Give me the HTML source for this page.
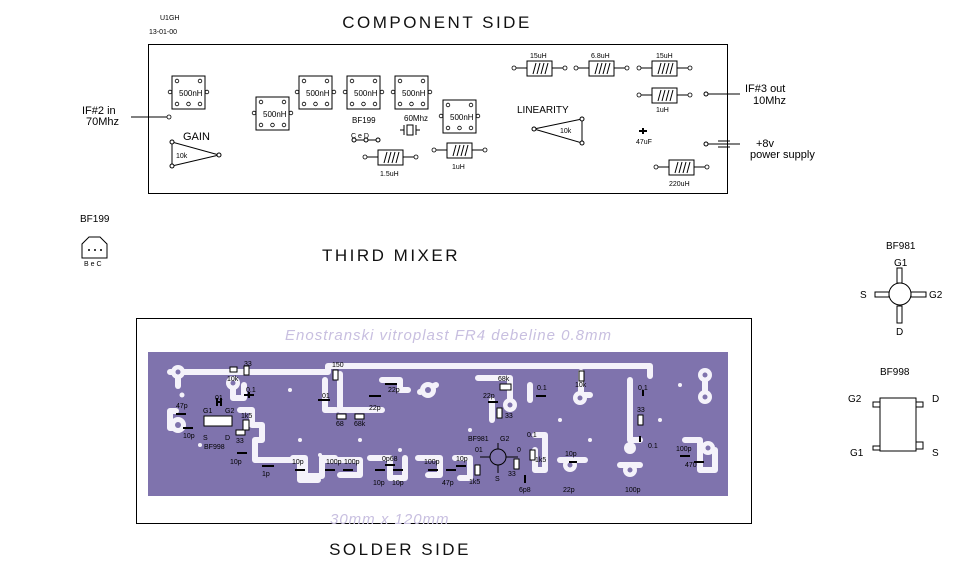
<!DOCTYPE html>
<html><head><meta charset="utf-8"><style>
html,body{margin:0;padding:0;background:#fff}
svg{display:block}
text{font-family:"Liberation Sans",sans-serif}
</style></head><body>
<svg width="979" height="566" viewBox="0 0 979 566" xmlns="http://www.w3.org/2000/svg">
<defs>
<g id="xf"><rect x="0" y="0" width="33" height="33" fill="#fff" stroke="#000"/>
<circle cx="5" cy="5" r="1.8" fill="none" stroke="#000" stroke-width=".8"/><circle cx="28" cy="5" r="1.8" fill="none" stroke="#000" stroke-width=".8"/>
<circle cx="5" cy="28" r="1.8" fill="none" stroke="#000" stroke-width=".8"/><circle cx="16.5" cy="28" r="1.8" fill="none" stroke="#000" stroke-width=".8"/><circle cx="28" cy="28" r="1.8" fill="none" stroke="#000" stroke-width=".8"/>
<circle cx="-2" cy="16" r="1.8" fill="#fff" stroke="#000" stroke-width=".8"/><circle cx="35" cy="16" r="1.8" fill="#fff" stroke="#000" stroke-width=".8"/>
<text x="7" y="20" font-size="8">500nH</text></g>
<g id="ind"><line x1="-12" y1="7" x2="0" y2="7" stroke="#000"/><line x1="25" y1="7" x2="37" y2="7" stroke="#000"/>
<circle cx="-13" cy="7" r="2" fill="#fff" stroke="#000" stroke-width=".8"/><circle cx="38" cy="7" r="2" fill="#fff" stroke="#000" stroke-width=".8"/>
<rect x="0" y="0" width="25" height="15" fill="#fff" stroke="#000"/>
<path d="M6 13 L9 2 M10 13 L13 2 M14 13 L17 2 M18 13 L21 2" stroke="#000"/></g>
</defs>

<text x="437" y="28" font-size="17" text-anchor="middle" letter-spacing="2.5" fill="#111">COMPONENT SIDE</text>
<text x="160" y="20" font-size="7">U1GH</text>
<text x="149" y="34" font-size="7">13-01-00</text>

<rect x="148.5" y="44.5" width="579" height="149" fill="none" stroke="#000"/>
<text x="82" y="114" font-size="11">IF#2 in</text>
<text x="86" y="125" font-size="11">70Mhz</text>
<line x1="131" y1="117" x2="167" y2="117" stroke="#000"/>
<circle cx="169" cy="117" r="2" fill="#fff" stroke="#000" stroke-width=".8"/>
<use href="#xf" x="172" y="76"/><use href="#xf" x="256" y="97"/><use href="#xf" x="299" y="76"/><use href="#xf" x="347" y="76"/><use href="#xf" x="395" y="76"/><use href="#xf" x="443" y="100"/>
<text x="183" y="140" font-size="11">GAIN</text>
<polygon points="172,142 172,166 219,155" fill="none" stroke="#000"/>
<text x="176" y="158" font-size="7">10k</text>
<circle cx="172" cy="142" r="2" fill="#fff" stroke="#000"/><circle cx="172" cy="166" r="2" fill="#fff" stroke="#000"/><circle cx="219" cy="155" r="2" fill="#fff" stroke="#000"/>
<text x="352" y="123" font-size="8">BF199</text>
<text x="351" y="138" font-size="7">C  e  D</text>
<path d="M354 140 H378" stroke="#000"/><circle cx="354" cy="140" r="2" fill="#fff" stroke="#000"/><circle cx="366" cy="140" r="2" fill="#fff" stroke="#000"/><circle cx="378" cy="140" r="2" fill="#fff" stroke="#000"/>
<text x="404" y="121" font-size="8">60Mhz</text>
<rect x="407" y="125" width="6" height="10" fill="none" stroke="#000"/><path d="M404 125v10M416 125v10M400 130h4M416 130h4" stroke="#000"/>
<use href="#ind" x="378" y="150"/><text x="380" y="176" font-size="7">1.5uH</text>
<use href="#ind" x="447" y="143"/><text x="452" y="169" font-size="7">1uH</text>
<use href="#ind" x="527" y="61"/><text x="530" y="58" font-size="7">15uH</text>
<use href="#ind" x="589" y="61"/><text x="591" y="58" font-size="7">6.8uH</text>
<use href="#ind" x="652" y="61"/><text x="656" y="58" font-size="7">15uH</text>
<use href="#ind" x="652" y="88"/><text x="656" y="112" font-size="7">1uH</text>
<use href="#ind" x="669" y="160"/><text x="669" y="186" font-size="7">220uH</text>
<text x="517" y="113" font-size="10">LINEARITY</text>
<polygon points="534,129 582,119 582,143" fill="none" stroke="#000"/>
<text x="560" y="133" font-size="7">10k</text>
<circle cx="534" cy="129" r="2" fill="#fff" stroke="#000"/><circle cx="582" cy="119" r="2" fill="#fff" stroke="#000"/><circle cx="582" cy="143" r="2" fill="#fff" stroke="#000"/>
<path d="M639 131h8M643 128v6" stroke="#000" stroke-width="2"/><text x="636" y="144" font-size="7">47uF</text>
<circle cx="706" cy="94" r="2" fill="#fff" stroke="#000"/><line x1="708" y1="94" x2="740" y2="94" stroke="#000"/>
<text x="745" y="92" font-size="11">IF#3 out</text><text x="753" y="104" font-size="11">10Mhz</text>
<circle cx="706" cy="144" r="2" fill="#fff" stroke="#000"/><line x1="708" y1="144" x2="740" y2="144" stroke="#000"/>
<path d="M718 141h12M718 147h12" stroke="#000"/>
<text x="756" y="147" font-size="11">+8v</text><text x="750" y="158" font-size="11">power supply</text>

<text x="80" y="222" font-size="10">BF199</text>
<path d="M82 258 V244 L89 237 H100 L107 244 V258 Z" fill="none" stroke="#000"/>
<circle cx="89" cy="250" r="1" fill="#000"/><circle cx="95" cy="250" r="1" fill="#000"/><circle cx="101" cy="250" r="1" fill="#000"/>
<text x="84" y="266" font-size="7">B e C</text>
<text x="391" y="261" font-size="17" text-anchor="middle" letter-spacing="2.5" fill="#111">THIRD MIXER</text>

<text x="886" y="249" font-size="10">BF981</text>
<text x="894" y="266" font-size="10">G1</text>
<rect x="897" y="268" width="5" height="15" fill="none" stroke="#000"/>
<rect x="897" y="306" width="5" height="17" fill="none" stroke="#000"/>
<rect x="911" y="292" width="15" height="5" fill="none" stroke="#000"/>
<rect x="875" y="292" width="14" height="5" fill="none" stroke="#000"/>
<circle cx="900" cy="294" r="11" fill="#fff" stroke="#000"/>
<text x="860" y="298" font-size="10">S</text><text x="929" y="298" font-size="10">G2</text><text x="896" y="335" font-size="10">D</text>
<text x="880" y="375" font-size="10">BF998</text>
<rect x="880" y="398" width="36" height="53" fill="#fff" stroke="#000"/>
<rect x="873" y="402" width="7" height="5" fill="none" stroke="#000"/><rect x="916" y="402" width="7" height="5" fill="none" stroke="#000"/>
<rect x="873" y="446" width="7" height="4" fill="none" stroke="#000"/><rect x="916" y="442" width="7" height="7" fill="none" stroke="#000"/>
<text x="848" y="402" font-size="10">G2</text><text x="932" y="402" font-size="10">D</text>
<text x="850" y="456" font-size="10">G1</text><text x="932" y="456" font-size="10">S</text>

<rect x="136.5" y="318.5" width="615" height="205" fill="none" stroke="#000"/>
<text x="285" y="340" font-size="15" fill="#c8bfe0" font-style="italic" letter-spacing="1">Enostranski  vitroplast  FR4  debeline  0.8mm</text>
<text x="330" y="524" font-size="15" fill="#c8bfe0" font-style="italic" letter-spacing="1">30mm  x  120mm</text>

<rect x="148" y="352" width="580" height="144" fill="#7f73ad"/>
<g fill="none" stroke="#f4f2fa" stroke-width="6" stroke-linejoin="round" stroke-linecap="round">
<path d="M170 372 H328 V366 H650 V376"/>
<path d="M178 378 V386"/>
<path d="M233 383 V398 H244 V385"/>
<path d="M176 411 H170 V428 H180"/>
<path d="M240 410 H252 V425 H262 V440 H255 V460 H300 V480 H318"/>
<path d="M325 380 V410 H336"/>
<path d="M340 374 V410 H382"/>
<path d="M382 380 H400 V390 H408"/>
<path d="M420 392 L436 385"/>
<path d="M478 378 H510 V400"/>
<path d="M492 400 V420"/>
<path d="M530 385 V400"/>
<path d="M581 372 V395 H590"/>
<path d="M630 380 V440 H640"/>
<path d="M705 373 V395"/>
<path d="M685 440 H700 V470 H715 V450"/>
<path d="M293 458 H305 V476 H322 V458 H335"/>
<path d="M325 460 H360 V475 H340"/>
<path d="M370 458 H390 V478 H405 V458"/>
<path d="M418 458 H440 V475 H428"/>
<path d="M455 458 H470 V478 H460"/>
<path d="M535 435 H545 V470 H535 V450"/>
<path d="M560 460 H585"/>
<path d="M620 465 H640"/>
</g>
<g fill="#f4f2fa" stroke="none">
<circle cx="178" cy="372" r="7"/><circle cx="178" cy="425" r="8"/><circle cx="233" cy="383" r="7"/>
<circle cx="428" cy="390" r="8"/><circle cx="510" cy="405" r="7"/><circle cx="580" cy="398" r="7"/>
<circle cx="705" cy="375" r="7"/><circle cx="705" cy="397" r="7"/><circle cx="708" cy="448" r="7"/>
<circle cx="570" cy="465" r="7"/><circle cx="630" cy="470" r="7"/><circle cx="630" cy="448" r="6"/>
<circle cx="182" cy="395" r="2.5"/><circle cx="200" cy="445" r="2"/><circle cx="290" cy="390" r="2"/><circle cx="300" cy="440" r="2"/><circle cx="360" cy="440" r="2"/><circle cx="470" cy="430" r="2"/><circle cx="590" cy="440" r="2"/><circle cx="680" cy="385" r="2"/><circle cx="660" cy="420" r="2"/><circle cx="400" cy="450" r="2"/><circle cx="320" cy="455" r="2"/><circle cx="560" cy="420" r="2"/>
</g>
<g fill="#7f73ad"><circle cx="178" cy="372" r="2.5"/><circle cx="178" cy="425" r="3"/><circle cx="233" cy="383" r="2.5"/><circle cx="428" cy="390" r="3"/><circle cx="510" cy="405" r="2.5"/><circle cx="580" cy="398" r="2.5"/><circle cx="705" cy="375" r="2.5"/><circle cx="705" cy="397" r="2.5"/><circle cx="708" cy="448" r="2.5"/><circle cx="570" cy="465" r="2.5"/><circle cx="630" cy="470" r="2.5"/></g>

<g font-size="7" fill="#000">
<rect x="230" y="367" width="7" height="5" fill="#fff" stroke="#000"/><text x="227" y="381">10k</text>
<rect x="244" y="366" width="5" height="9" fill="#fff" stroke="#000"/><text x="244" y="366">33</text>
<text x="246" y="392">0.1</text><path d="M244 395h10M249 392v6" stroke="#000" stroke-width="2"/>
<text x="215" y="400">01</text><path d="M216 402h6M217 398v8M221 398v8" stroke="#000" stroke-width="2"/>
<text x="176" y="408">47p</text><path d="M176 414h10" stroke="#000" stroke-width="2"/>
<text x="183" y="438">10p</text><path d="M183 428h10" stroke="#000" stroke-width="2"/>
<rect x="204" y="416" width="28" height="10" fill="#fff" stroke="#000"/>
<text x="203" y="413">G1</text><text x="225" y="413">G2</text><text x="203" y="440">S</text><text x="225" y="440">D</text><text x="204" y="449">BF998</text>
<text x="241" y="418">1k5</text><rect x="243" y="420" width="6" height="10" fill="#fff" stroke="#000"/>
<rect x="236" y="430" width="9" height="5" fill="#fff" stroke="#000"/><text x="236" y="443">33</text>
<text x="230" y="464">10p</text><path d="M237 453h10" stroke="#000" stroke-width="2"/>
<text x="262" y="476">1p</text><path d="M262 466h12" stroke="#000" stroke-width="2"/>
<text x="292" y="464">10p</text><path d="M295 470h10" stroke="#000" stroke-width="2"/>
<text x="326" y="464">100p</text><text x="344" y="464">100p</text><path d="M325 470h10M343 470h10" stroke="#000" stroke-width="2"/>
<text x="382" y="461">0p68</text><path d="M385 465h10" stroke="#000" stroke-width="2"/>
<text x="373" y="485">10p</text><text x="392" y="485">10p</text><path d="M375 470h10M393 470h10" stroke="#000" stroke-width="2"/>
<text x="424" y="464">100p</text><text x="442" y="485">47p</text><path d="M428 470h10M446 470h10" stroke="#000" stroke-width="2"/>
<text x="456" y="461">10p</text><path d="M456 466h10" stroke="#000" stroke-width="2"/>
<text x="332" y="367">150</text><rect x="333" y="370" width="5" height="10" fill="#fff" stroke="#000"/>
<text x="322" y="398">01</text><path d="M318 400h12" stroke="#000" stroke-width="2"/>
<text x="369" y="410">22p</text><path d="M369 396h12" stroke="#000" stroke-width="2"/>
<text x="388" y="392">22p</text><path d="M385 384h12" stroke="#000" stroke-width="2"/>
<rect x="337" y="414" width="9" height="5" fill="#fff" stroke="#000"/><text x="336" y="426">68</text>
<rect x="355" y="414" width="9" height="5" fill="#fff" stroke="#000"/><text x="354" y="426">68k</text>
<text x="498" y="381">68k</text><rect x="500" y="384" width="11" height="6" fill="#fff" stroke="#000"/>
<text x="483" y="398">22p</text><path d="M488 402h10" stroke="#000" stroke-width="2"/>
<rect x="497" y="408" width="5" height="10" fill="#fff" stroke="#000"/><text x="505" y="418">33</text>
<text x="537" y="390">0.1</text><path d="M536 396h10" stroke="#000" stroke-width="2"/>
<text x="575" y="387">10k</text><rect x="579" y="371" width="5" height="10" fill="#fff" stroke="#000"/>
<text x="638" y="390">0.1</text><path d="M643 390v6" stroke="#000" stroke-width="2"/>
<text x="637" y="412">33</text><rect x="638" y="415" width="5" height="10" fill="#fff" stroke="#000"/>
<text x="648" y="448">0.1</text><path d="M640 436v6" stroke="#000" stroke-width="2"/>
<text x="468" y="441">BF981</text><text x="500" y="441">G2</text>
<circle cx="498" cy="457" r="8" fill="none" stroke="#000"/><path d="M480 457h10M506 457h12M498 443v6M498 465v8" stroke="#000"/>
<text x="475" y="452">01</text><text x="517" y="452">0</text><text x="495" y="481">S</text>
<text x="527" y="437">0.1</text><text x="535" y="462">1k5</text>
<rect x="514" y="459" width="5" height="10" fill="#fff" stroke="#000"/><text x="508" y="476">33</text>
<rect x="530" y="450" width="5" height="10" fill="#fff" stroke="#000"/>
<text x="519" y="492">6p8</text><path d="M525 475v8" stroke="#000" stroke-width="2"/>
<text x="469" y="484">1k5</text><rect x="475" y="465" width="5" height="10" fill="#fff" stroke="#000"/>
<text x="565" y="456">10p</text><path d="M569 462h8" stroke="#000" stroke-width="2"/>
<text x="563" y="492">22p</text><text x="625" y="492">100p</text>
<text x="676" y="451">100p</text><text x="685" y="467">470</text>
<path d="M680 456h10M694 462h10" stroke="#000" stroke-width="2"/>
</g>

<text x="400" y="555" font-size="17" text-anchor="middle" letter-spacing="2.5" fill="#111">SOLDER SIDE</text>
</svg>
</body></html>
